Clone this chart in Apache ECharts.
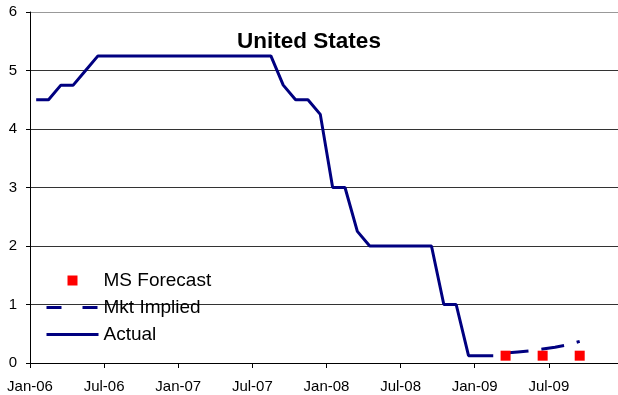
<!DOCTYPE html>
<html>
<head>
<meta charset="utf-8">
<script src="https://cdn.jsdelivr.net/npm/echarts@6/dist/echarts.min.js"></script>
<style>
  html, body { margin: 0; padding: 0; background: #fff; }
  #chart { width: 618px; height: 395px; }
</style>
</head>
<body>
<div id="chart"></div>
<script>
// Fed funds target rate, monthly (percent)
const actualMonths = [
  '2006-01','2006-02','2006-03','2006-04','2006-05','2006-06','2006-07','2006-08','2006-09','2006-10','2006-11','2006-12',
  '2007-01','2007-02','2007-03','2007-04','2007-05','2007-06','2007-07','2007-08','2007-09','2007-10','2007-11','2007-12',
  '2008-01','2008-02','2008-03','2008-04','2008-05','2008-06','2008-07','2008-08','2008-09','2008-10','2008-11','2008-12',
  '2009-01','2009-02'
];
const actualRates = [
  4.5, 4.5, 4.75, 4.75, 5.0, 5.25, 5.25, 5.25, 5.25, 5.25, 5.25, 5.25,
  5.25, 5.25, 5.25, 5.25, 5.25, 5.25, 5.25, 5.25, 4.75, 4.5, 4.5, 4.25,
  3.0, 3.0, 2.25, 2.0, 2.0, 2.0, 2.0, 2.0, 2.0, 1.0, 1.0, 0.125,
  0.125, 0.125
];

// Market-implied path
const impliedMonths = ['2009-03','2009-04','2009-05','2009-06','2009-07','2009-08','2009-09'];
const impliedRates = [0.17, 0.19, 0.21, 0.24, 0.27, 0.31, 0.37];

// MS forecast (quarterly)
const forecastMonths = ['2009-03','2009-06','2009-09'];
const forecastRates = [0.125, 0.125, 0.125];

// X-axis tick labels, one every six months from Jan-06
const xTickLabels = ['Jan-06','Jul-06','Jan-07','Jul-07','Jan-08','Jul-08','Jan-09','Jul-09'];
const yTicks = [0, 1, 2, 3, 4, 5, 6];

// Month slot index from Jan 2006; points sit in the middle of their month
function monthPos(s) {
  const [y, m] = s.split('-').map(Number);
  return (y - 2006) * 12 + (m - 1) + 0.5;
}
const pairs = (months, vals) => months.map((m, i) => [monthPos(m), vals[i]]);

const tickPositions = xTickLabels.map((_, i) => i * 6);
const FONT = '"Liberation Sans", Arial, sans-serif';
const SQUARE = 'path://M0,0L10,0L10,10L0,10Z';
const NAVY = '#000080';
const RED = '#ff0000';

const chart = echarts.init(document.getElementById('chart'), null, { renderer: 'canvas' });
chart.setOption({
  backgroundColor: '#ffffff',
  animation: false,
  title: {
    text: 'United States',
    left: 'center',
    top: 25,
    textStyle: { fontFamily: FONT, fontSize: 22.5, fontWeight: 'bold', color: '#000' }
  },
  grid: { left: 30, right: 0, top: 12, bottom: 32, containLabel: false },
  legend: {
    orient: 'vertical',
    left: 40,
    top: 266,
    itemWidth: 52,
    itemHeight: 10,
    itemGap: 8,
    symbolKeepAspect: true,
    textStyle: { fontFamily: FONT, fontSize: 19, color: '#000', lineHeight: 19 },
    data: [
      { name: 'MS Forecast', icon: SQUARE, itemStyle: { color: RED, opacity: 1 } },
      { name: 'Mkt Implied', lineStyle: { color: NAVY, type: [15, 21], width: 3 }, itemStyle: { opacity: 0 } },
      { name: 'Actual', lineStyle: { color: NAVY, type: 'solid', width: 3 }, itemStyle: { opacity: 0 } }
    ]
  },
  xAxis: {
    type: 'value',
    min: 0,
    max: 47.6,
    axisLine: { show: true, lineStyle: { color: '#000', width: 1 } },
    axisTick: { show: true, length: 5, lineStyle: { color: '#000' }, customValues: tickPositions },
    axisLabel: {
      customValues: tickPositions,
      formatter: v => xTickLabels[Math.round(v / 6)] || '',
      fontFamily: FONT, fontSize: 15, color: '#000', margin: 16
    },
    splitLine: { show: false }
  },
  yAxis: {
    type: 'value',
    min: yTicks[0],
    max: yTicks[yTicks.length - 1],
    interval: 1,
    axisLine: { show: true, lineStyle: { color: '#000', width: 1 } },
    axisTick: { show: true, length: 4, lineStyle: { color: '#000' } },
    axisLabel: { fontFamily: FONT, fontSize: 15, color: '#000', margin: 13 },
    splitLine: {
      show: true,
      lineStyle: { color: ['#333', '#333', '#333', '#333', '#333', '#333', '#999'], width: 1 }
    }
  },
  series: [
    {
      name: 'MS Forecast',
      type: 'scatter',
      data: pairs(forecastMonths, forecastRates),
      symbol: 'rect',
      symbolSize: 10,
      itemStyle: { color: RED, opacity: 1 },
      z: 5
    },
    {
      name: 'Mkt Implied',
      type: 'line',
      data: pairs(impliedMonths, impliedRates),
      symbol: 'none',
      lineStyle: { color: NAVY, width: 3, type: [23, 13] },
      itemStyle: { color: NAVY },
      z: 3
    },
    {
      name: 'Actual',
      type: 'line',
      data: pairs(actualMonths, actualRates),
      symbol: 'none',
      lineStyle: { color: NAVY, width: 3 },
      itemStyle: { color: NAVY },
      z: 3
    }
  ]
});
</script>
</body>
</html>
